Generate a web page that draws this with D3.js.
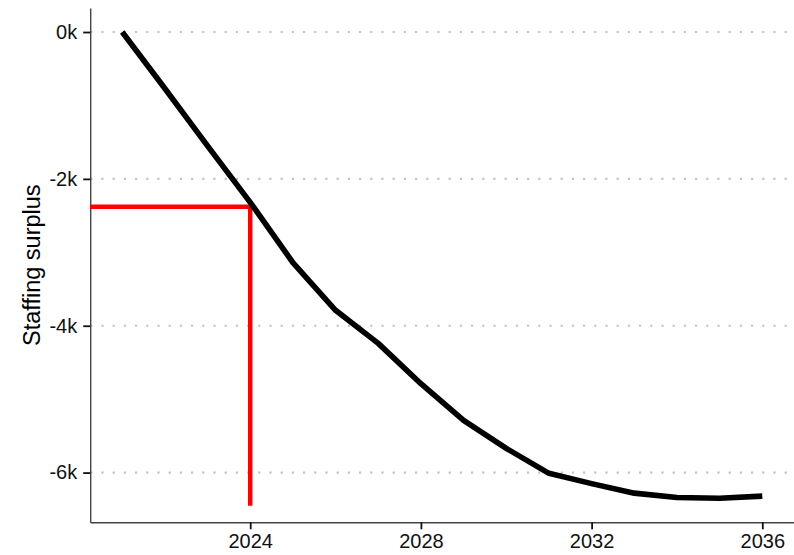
<!DOCTYPE html>
<html>
<head>
<meta charset="utf-8">
<script src="https://cdn.jsdelivr.net/npm/d3@7"></script>
<style>
  html, body { margin: 0; padding: 0; background: #fff; }
  svg { display: block; }
  text { font-family: "Liberation Sans", Arial, Helvetica, sans-serif; }
</style>
</head>
<body>
<svg id="chart" width="794" height="555"></svg>
<script>
// Data (thousands)
const years = [2021, 2022, 2023, 2024, 2025, 2026, 2027, 2028, 2029, 2030, 2031, 2032, 2033, 2034, 2035, 2036];
const surplus = [0, -0.77, -1.55, -2.32, -3.14, -3.79, -4.24, -4.79, -5.29, -5.67, -6.01, -6.15, -6.28, -6.34, -6.35, -6.32];
const xTicks = [2024, 2028, 2032, 2036];
const yTicks = [0, -2, -4, -6];
const markerYear = [2024];
const markerLevel = [-2.38];
const markerBottom = [-6.45];

const svg = d3.select("#chart");

const x = d3.scaleLinear().domain([2020.25, 2036.75]).range([90.2, 794.3]);
const y = d3.scaleLinear().domain([0.327, -6.677]).range([8, 522.3]);

// gridlines
svg.append("g").selectAll("line").data(yTicks).join("line")
  .attr("x1", x(2020.25)).attr("x2", 794)
  .attr("y1", d => y(d)).attr("y2", d => y(d))
  .attr("stroke", "#c4c4c4").attr("stroke-width", 2.2)
  .attr("stroke-dasharray", "2.2,9");

// y axis
const yAxis = svg.append("g").attr("transform", `translate(${x(2020.25)},0)`)
  .call(d3.axisLeft(y).tickValues(yTicks).tickFormat(d => d + "k").tickSizeInner(7).tickSizeOuter(0).tickPadding(6));
yAxis.select(".domain").attr("stroke", "#444").attr("stroke-width", 1.4);
yAxis.selectAll(".tick line").attr("stroke", "#111").attr("stroke-width", 1.8);
yAxis.selectAll(".tick text").attr("font-size", 20).attr("fill", "#111")
  .attr("font-family", "'Liberation Sans', Arial, sans-serif");

// x axis
const xAxis = svg.append("g").attr("transform", `translate(0,${y(-6.677)})`)
  .call(d3.axisBottom(x).tickValues(xTicks).tickFormat(d3.format("d")).tickSizeInner(7).tickSizeOuter(0).tickPadding(5));
xAxis.select(".domain").attr("stroke", "#444").attr("stroke-width", 1.4);
xAxis.selectAll(".tick line").attr("stroke", "#111").attr("stroke-width", 1.8);
xAxis.selectAll(".tick text").attr("font-size", 20).attr("fill", "#111")
  .attr("font-family", "'Liberation Sans', Arial, sans-serif");

// red marker lines
svg.append("path")
  .datum([[2020.25, markerLevel[0]], [markerYear[0], markerLevel[0]], [markerYear[0], markerBottom[0]]])
  .attr("d", d3.line().x(d => x(d[0])).y(d => y(d[1])))
  .attr("fill", "none").attr("stroke", "#ff0000").attr("stroke-width", 4.5)
  .attr("stroke-linejoin", "miter");

// main line
svg.append("path")
  .datum(years.map((yr, i) => [yr, surplus[i]]))
  .attr("d", d3.line().x(d => x(d[0])).y(d => y(d[1])))
  .attr("fill", "none").attr("stroke", "#000").attr("stroke-width", 5.6)
  .attr("stroke-linejoin", "round").attr("stroke-linecap", "butt");

// y axis title
svg.append("text")
  .attr("transform", `translate(40,${(8 + 522.3) / 2}) rotate(-90)`)
  .attr("text-anchor", "middle")
  .attr("font-size", 23.5).attr("fill", "#000")
  .text("Staffing surplus");
</script>
</body>
</html>
